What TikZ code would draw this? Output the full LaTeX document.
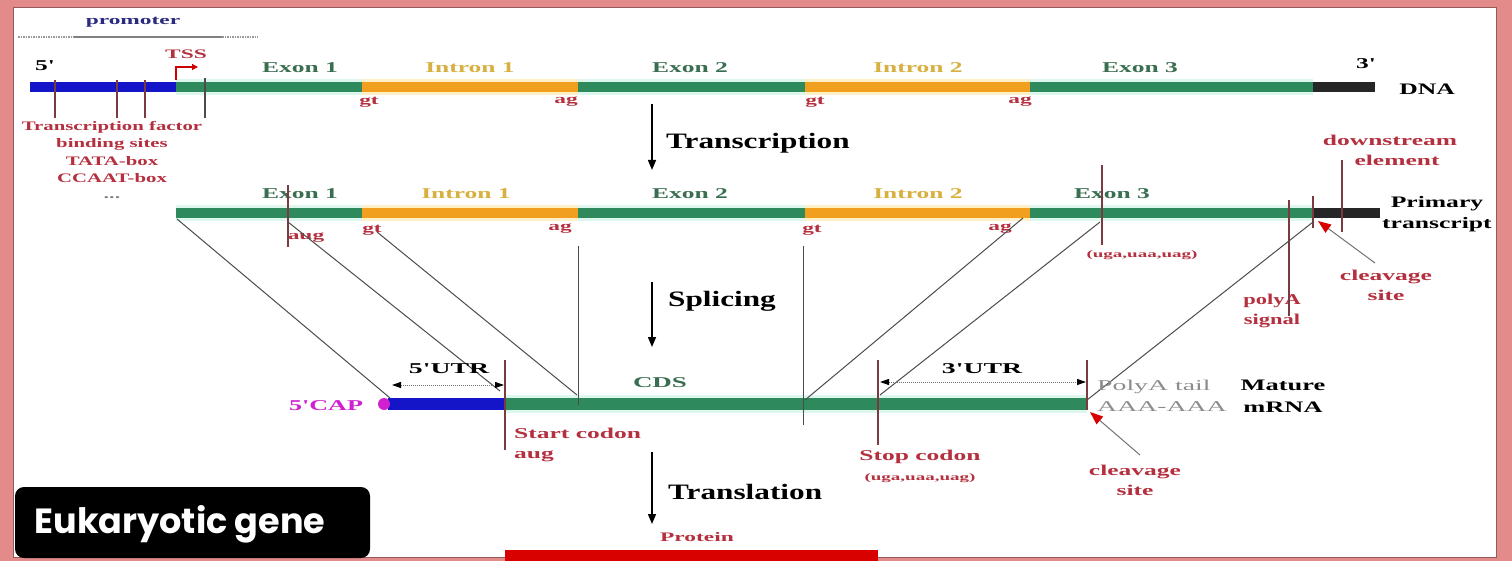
\documentclass[tikz,border=0pt]{standalone}
\usepackage{fontspec}
\usepackage{graphicx}
\setmainfont{Liberation Serif}
\newfontfamily\popfont{Poppins}
\usetikzlibrary{arrows.meta}
\definecolor{pinkbg}{HTML}{E38A8A}
\definecolor{exgreen}{HTML}{2E8A5C}
\definecolor{inorange}{HTML}{F0A01E}
\definecolor{prblue}{HTML}{1414C8}
\definecolor{labred}{HTML}{B5303F}
\definecolor{tickc}{HTML}{7A3A40}
\definecolor{exlab}{HTML}{3A6E50}
\definecolor{inlab}{HTML}{D8B040}
\definecolor{halo}{HTML}{DDF7EE}
\definecolor{ohalo}{HTML}{FFF0C8}
\definecolor{navy}{HTML}{2A2A80}
\definecolor{capm}{HTML}{D020D0}
\newcommand{\sx}[2][1.7]{\scalebox{#1}[1]{#2}}
\begin{document}
\begin{tikzpicture}[x=1pt,y=-1pt,
  lbl/.style={font=\bfseries\fontsize{15}{20}\selectfont, inner sep=0pt, align=center},
  sml/.style={font=\bfseries\fontsize{13}{17}\selectfont, inner sep=0pt, align=center},
  big/.style={font=\bfseries\fontsize{22}{24}\selectfont, inner sep=0pt},
  exl/.style={lbl, text=exlab},
  inl/.style={lbl, text=inlab},
  redl/.style={lbl, text=labred},
  tick/.style={draw=tickc, line width=1.2pt},
  link/.style={draw=black!70, line width=1pt},
  bar/.style={line width=10pt},
  flow/.style={draw=black, line width=1.5pt, -{Triangle[length=10pt,width=8pt]}},
  dim/.style={draw=black!55, densely dotted, line width=1pt, {Triangle[length=9pt,width=6pt,color=black]}-{Triangle[length=9pt,width=6pt,color=black]}},
  cleave/.style={draw=black!55, line width=1pt, -{Triangle[length=13pt,width=10pt,color=red!85!black]}}]
\useasboundingbox (0,0) rectangle (1512,561);
\fill[pinkbg] (0,0) rectangle (1512,561);
\fill[white, draw=black!35!pinkbg, line width=1pt] (13,8) rectangle (1496,557);

% ---------- promoter ----------
\node[sml, text=navy] (prom) at (133,22) {\sx[1.8]{promoter}};
\coordinate (pl0) at (18,37); \coordinate (pl1) at (74,37);
\coordinate (pl2) at (222,37); \coordinate (pl3) at (258,37);
\draw[black!40, densely dotted, line width=1.5pt] (pl0) -- (pl1);
\draw[black!50, line width=2pt] (pl1) -- (pl2);
\draw[black!40, densely dotted, line width=1.5pt] (pl2) -- (pl3);

% ---------- DNA row ----------
\coordinate (d0) at (30,87);  \coordinate (d1) at (176,87);
\coordinate (d2) at (362,87); \coordinate (d3) at (578,87);
\coordinate (d4) at (805,87); \coordinate (d5) at (1030,87);
\coordinate (d6) at (1313,87); \coordinate (d7) at (1375,87);
\draw[halo, line width=16pt] (d1) -- (d6);
\draw[ohalo, line width=16pt] (d2) -- (d3) (d4) -- (d5);
\draw[bar, prblue] (d0) -- (d1);
\draw[bar, exgreen] (d1) -- (d2);
\draw[bar, inorange] (d2) -- (d3);
\draw[bar, exgreen] (d3) -- (d4);
\draw[bar, inorange] (d4) -- (d5);
\draw[bar, exgreen] (d5) -- (d6);
\draw[bar, black!85] (d6) -- (d7);

\node[lbl] (five) at (45,66) {\sx{5\textquotesingle}};
\node[sml, text=labred] (tss) at (186,54) {\sx[1.8]{TSS}};
\coordinate (tssA) at (176,80); \coordinate (tssB) at (198,67);
\draw[red!80!black, line width=1.2pt, -{Triangle[length=6pt,width=6pt]}] (tssA) |- (tssB);
\node[exl] (dex1) at (300,68) {\sx{Exon 1}};
\node[inl] (din1) at (470,68) {\sx{Intron 1}};
\node[exl] (dex2) at (690,68) {\sx{Exon 2}};
\node[inl] (din2) at (918,68) {\sx{Intron 2}};
\node[exl] (dex3) at (1140,68) {\sx{Exon 3}};
\node[lbl] (three) at (1366,64) {\sx{3\textquotesingle}};
\node[lbl, font=\bfseries\fontsize{16}{20}\selectfont] (dna) at (1427,89) {\sx[1.6]{DNA}};
\node[sml, text=labred] (dgt1) at (369,102) {\sx[1.8]{gt}};
\node[sml, text=labred] (dag1) at (566,102) {\sx[1.8]{ag}};
\node[sml, text=labred] (dgt2) at (815,102) {\sx[1.8]{gt}};
\node[sml, text=labred] (dag2) at (1020,102) {\sx[1.8]{ag}};

\foreach \x/\n in {55/ta,117/tb,145/tc}{
  \coordinate (\n1) at (\x,80); \coordinate (\n2) at (\x,118);
  \draw[tick] (\n1) -- (\n2);
}
\coordinate (td1) at (205,78); \coordinate (td2) at (205,118);
\draw[tick, draw=black!70] (td1) -- (td2);
\node[font=\bfseries\fontsize{13}{17.5}\selectfont, text=labred, align=center, inner sep=0pt, anchor=north] (tf) at (112,121)
  {\sx[1.6]{Transcription factor}\\\sx[1.6]{binding sites}\\\sx[1.6]{TATA-box}\\\sx[1.6]{CCAAT-box}};
\node[font=\bfseries\fontsize{13}{15}\selectfont, text=black!50, inner sep=0pt] (dots) at (112,198) {\sx{...}};

% ---------- Transcription ----------
\coordinate (tr1) at (652,104); \coordinate (tr2) at (652,170);
\draw[flow] (tr1) -- (tr2);
\node[big, anchor=west] (trans) at (666,143) {\sx[1.42]{Transcription}};

% ---------- Primary transcript ----------
\coordinate (p1) at (176,213); \coordinate (p2) at (362,213);
\coordinate (p3) at (578,213); \coordinate (p4) at (805,213);
\coordinate (p5) at (1030,213); \coordinate (p6) at (1313,213);
\coordinate (p7) at (1380,213);
\draw[halo, line width=16pt] (p1) -- (p6);
\draw[ohalo, line width=16pt] (p2) -- (p3) (p4) -- (p5);
\draw[bar, exgreen] (p1) -- (p2);
\draw[bar, inorange] (p2) -- (p3);
\draw[bar, exgreen] (p3) -- (p4);
\draw[bar, inorange] (p4) -- (p5);
\draw[bar, exgreen] (p5) -- (p6);
\draw[bar, black!85] (p6) -- (p7);

\node[exl] (pex1) at (300,194) {\sx{Exon 1}};
\node[inl] (pin1) at (466,194) {\sx{Intron 1}};
\node[exl] (pex2) at (690,194) {\sx{Exon 2}};
\node[inl] (pin2) at (918,194) {\sx{Intron 2}};
\node[exl] (pex3) at (1112,194) {\sx{Exon 3}};
\node[lbl, font=\bfseries\fontsize{16}{21}\selectfont, anchor=west] (prim) at (1382,214) {\sx[1.6]{Primary}\\\sx[1.6]{transcript}};
\node[sml, text=labred] (paug) at (306,238) {\sx[1.8]{aug}};
\node[sml, text=labred] (pgt1) at (372,230) {\sx[1.8]{gt}};
\node[sml, text=labred] (pag1) at (560,229) {\sx[1.8]{ag}};
\node[sml, text=labred] (pgt2) at (812,230) {\sx[1.8]{gt}};
\node[sml, text=labred] (pag2) at (1000,229) {\sx[1.8]{ag}};
\node[font=\bfseries\fontsize{10}{12}\selectfont, text=labred, inner sep=0pt] (pstop) at (1142,255) {\sx[1.9]{(uga,uaa,uag)}};
\node[redl, anchor=north] (down) at (1390,135) {\sx{downstream}\\\hspace*{14pt}\sx{element}};
\node[redl, anchor=north] (pas) at (1272,294) {\sx[1.5]{polyA}\\\sx[1.5]{signal}};
\node[redl, anchor=north] (pcl) at (1386,270) {\sx{cleavage}\\\sx{site}};

\coordinate (k11) at (288,185); \coordinate (k12) at (288,247);
\coordinate (k21) at (1102,165); \coordinate (k22) at (1102,245);
\coordinate (k31) at (1342,160); \coordinate (k32) at (1342,232);
\coordinate (k41) at (1289,200); \coordinate (k42) at (1289,316);
\coordinate (k51) at (1313,196); \coordinate (k52) at (1313,228);
\draw[tick] (k11) -- (k12);
\draw[tick] (k21) -- (k22);
\draw[tick] (k31) -- (k32);
\draw[tick] (k41) -- (k42);
\draw[tick] (k51) -- (k52);
\coordinate (pc1) at (1375,263); \coordinate (pc2) at (1318,221);
\draw[cleave] (pc1) -- (pc2);

% ---------- Splicing ----------
\coordinate (sp1) at (652,282); \coordinate (sp2) at (652,347);
\draw[flow] (sp1) -- (sp2);
\node[big, anchor=west] (splice) at (668,301) {\sx[1.42]{Splicing}};

% ---------- Mature mRNA ----------
\coordinate (m0) at (388,404); \coordinate (m1) at (505,404);
\coordinate (m2) at (1087,404);
\draw[halo, line width=18pt] (m1) -- (m2);
\draw[line width=12pt, prblue] (m0) -- (m1);
\draw[line width=12pt, exgreen] (m1) -- (m2);
\fill[capm] (384,404) ellipse (6pt and 6pt);

% splicing connectors
\coordinate (s1) at (177,219); \coordinate (e1) at (390,398);
\coordinate (s2) at (288,222); \coordinate (e2) at (500,391);
\coordinate (s3) at (377,232); \coordinate (e3) at (577,395);
\coordinate (v1a) at (578,246); \coordinate (v1b) at (578,405);
\coordinate (v2a) at (803,246); \coordinate (v2b) at (803,425);
\coordinate (s4) at (1023,218); \coordinate (e4) at (805,400);
\coordinate (s5) at (1100,222); \coordinate (e5) at (880,395);
\coordinate (s6) at (1313,222); \coordinate (e6) at (1087,400);
\draw[link] (s1) -- (e1);
\draw[link] (s2) -- (e2);
\draw[link] (s3) -- (e3);
\draw[link] (v1a) -- (v1b);
\draw[link] (v2a) -- (v2b);
\draw[link] (s4) -- (e4);
\draw[link] (s5) -- (e5);
\draw[link] (s6) -- (e6);

\coordinate (n11) at (505,360); \coordinate (n12) at (505,450);
\coordinate (n21) at (878,360); \coordinate (n22) at (878,445);
\coordinate (n31) at (1087,360); \coordinate (n32) at (1087,410);
\draw[tick] (n11) -- (n12);
\draw[tick] (n21) -- (n22);
\draw[tick] (n31) -- (n32);

\coordinate (u1) at (392,385); \coordinate (u2) at (504,385);
\draw[dim] (u1) -- (u2);
\coordinate (u3) at (880,382); \coordinate (u4) at (1086,382);
\draw[dim] (u3) -- (u4);

\node[lbl, text=capm] (cap) at (326,406) {\sx[1.74]{5\textquotesingle CAP}};
\node[lbl] (utr5) at (449,369) {\sx[1.85]{5\textquotesingle UTR}};
\node[exl] (cds) at (660,383) {\sx[1.8]{CDS}};
\node[lbl] (utr3) at (982,369) {\sx[1.85]{3\textquotesingle UTR}};
\node[font=\fontsize{15}{21}\selectfont, text=black!45, inner sep=0pt, align=left, anchor=west] (tail) at (1097,396) {\sx[1.85]{PolyA tail}\\\sx[1.85]{AAA-AAA}};
\node[lbl, font=\bfseries\fontsize{16}{22}\selectfont] (mat) at (1283,396) {\sx[1.65]{Mature}\\\sx[1.65]{mRNA}};
\node[redl, align=left, anchor=north west] (start) at (514,428) {\sx{Start codon}\\\sx{aug}};
\node[redl, anchor=north] (stop) at (920,450) {\sx{Stop codon}};
\node[font=\bfseries\fontsize{10}{12}\selectfont, text=labred, inner sep=0pt] (mstop) at (920,478) {\sx[1.9]{(uga,uaa,uag)}};
\node[redl, anchor=north] (mcl) at (1135,465) {\sx{cleavage}\\\sx{site}};
\coordinate (mc1) at (1140,455); \coordinate (mc2) at (1090,412);
\draw[cleave] (mc1) -- (mc2);

% ---------- Translation ----------
\coordinate (tl1) at (652,452); \coordinate (tl2) at (652,524);
\draw[flow] (tl1) -- (tl2);
\node[big, anchor=west] (transl) at (668,492) {\sx[1.42]{Translation}};
\node[sml, text=labred] (prot) at (697,537) {\sx[1.8]{Protein}};
\fill[red!85!black] (505,550) rectangle (878,561);

% ---------- title box ----------
\node[fill=black, rounded corners=9pt, minimum width=355pt, minimum height=71pt, inner sep=0pt] (box) at (192.5,522.5) {};
\node[text=white, font=\popfont\bfseries\fontsize{35}{38}\selectfont, inner sep=0pt] (title) at (180,524) {Eukaryotic gene};
\end{tikzpicture}
\end{document}
